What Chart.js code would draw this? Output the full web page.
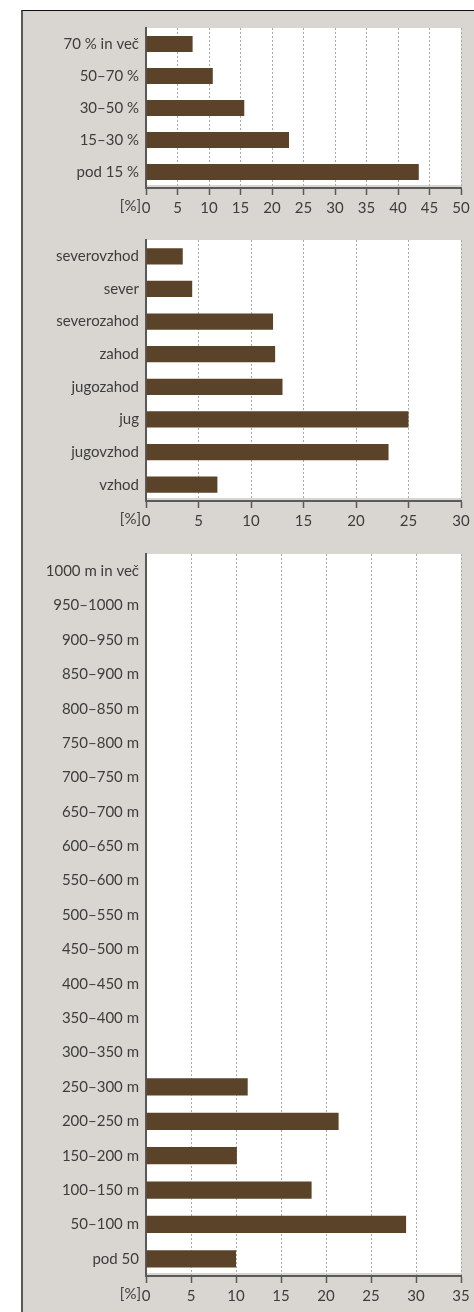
<!DOCTYPE html>
<html>
<head>
<meta charset="utf-8">
<script src="https://cdn.jsdelivr.net/npm/chart.js@4/dist/chart.umd.min.js"></script>
<style>
  html, body { margin: 0; padding: 0; background: #fff; }
  body { width: 474px; height: 1312px; position: relative; overflow: hidden; }
  #frame {
    position: absolute; left: 21px; top: 10px; width: 453px; height: 1302px;
    background: #d9d6d2; box-sizing: border-box;
    border-top: 1.5px solid #111; border-left: 2px solid #5a5a5a;
  }
  canvas { position: absolute; left: 23px; }
</style>
</head>
<body>
<div id="frame"></div>
<canvas id="c1" width="451" height="212" style="top:12px"></canvas>
<canvas id="c2" width="451" height="313" style="top:224px"></canvas>
<canvas id="c3" width="451" height="775" style="top:537px"></canvas>
<script>
// naklon
const slopeLabels = ['70 % in več', '50–70 %', '30–50 %', '15–30 %', 'pod 15 %'];
const slopeValues = [7.4, 10.6, 15.6, 22.7, 43.3];

// ekspozicija
const aspectLabels = ['severovzhod', 'sever', 'severozahod', 'zahod', 'jugozahod', 'jug', 'jugovzhod', 'vzhod'];
const aspectValues = [3.5, 4.4, 12.1, 12.3, 13.0, 25.0, 23.1, 6.8];

// nadmorska višina
const heightLabels = ['1000 m in več', '950–1000 m', '900–950 m', '850–900 m', '800–850 m', '750–800 m',
  '700–750 m', '650–700 m', '600–650 m', '550–600 m', '500–550 m', '450–500 m', '400–450 m',
  '350–400 m', '300–350 m', '250–300 m', '200–250 m', '150–200 m', '100–150 m', '50–100 m', 'pod 50'];
const heightValues = [0, 0, 0, 0, 0, 0, 0, 0, 0, 0, 0, 0, 0, 0, 0, 11.3, 21.4, 10.1, 18.4, 28.9, 10.0];

const BAR = '#5b4329';
const TEXT = '#3d3d3d';
const AXIS = '#5a5a5a';
const FONT = 'Lato';

Chart.defaults.font.family = FONT;
Chart.defaults.font.size = 15;
Chart.defaults.color = TEXT;

const panelBg = {
  id: 'panelBg',
  beforeDraw(chart) {
    const { ctx, chartArea: a } = chart;
    ctx.save();
    ctx.fillStyle = '#fff';
    ctx.fillRect(a.left, a.top, a.right - a.left, a.bottom - a.top - 3);
    ctx.restore();
  },
  afterDraw(chart) {
    const { ctx, chartArea: a } = chart;
    const x = chart.scales.x;
    ctx.save();
    ctx.font = '15px ' + FONT;
    ctx.fillStyle = TEXT;
    ctx.textAlign = 'right';
    ctx.textBaseline = 'top';
    ctx.fillText('[%]', a.left - 5, x.top + 7 + 4);
    ctx.restore();
  }
};

function makeChart(id, labels, values, max, padTop) {
  new Chart(document.getElementById(id), {
    type: 'bar',
    data: {
      labels: labels,
      datasets: [{
        data: values,
        backgroundColor: BAR,
        borderWidth: 0,
        categoryPercentage: 1,
        barPercentage: 0.5
      }]
    },
    options: {
      indexAxis: 'y',
      responsive: false,
      animation: false,
      devicePixelRatio: 1,
      layout: { padding: { top: padTop, right: 13, left: 0, bottom: 0 } },
      plugins: { legend: { display: false }, tooltip: { enabled: false } },
      scales: {
        x: {
          min: 0,
          max: max,
          ticks: { stepSize: 5, padding: 4, maxRotation: 0, autoSkip: false },
          grid: {
            color: '#aaaaaa',
            lineWidth: 1,
            tickLength: 7,
            tickColor: AXIS,
            tickWidth: 1.5,
            tickBorderDash: []
          },
          border: { display: true, color: AXIS, width: 2, dash: [2, 2] },
          afterFit(s) { s.height = 36; }
        },
        y: {
          grid: { display: false, drawTicks: false },
          border: { display: true, color: AXIS, width: 2 },
          ticks: { padding: 7 },
          afterFit(s) { s.width = 123; }
        }
      }
    },
    plugins: [panelBg]
  });
}

makeChart('c1', slopeLabels, slopeValues, 50, 9);
makeChart('c2', aspectLabels, aspectValues, 30, 10);
makeChart('c3', heightLabels, heightValues, 35, 17);
</script>
</body>
</html>
